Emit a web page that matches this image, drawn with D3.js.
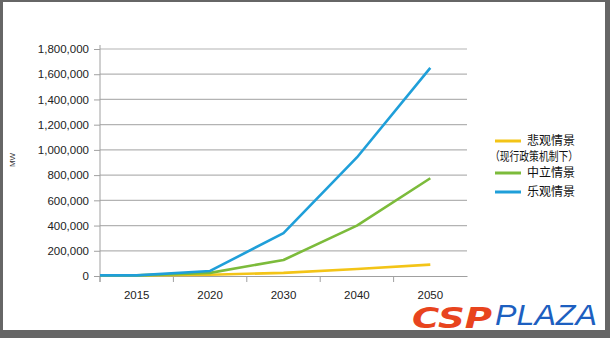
<!DOCTYPE html>
<html><head><meta charset="utf-8">
<script src="https://cdn.jsdelivr.net/npm/d3@7"></script>
<style>body{margin:0;background:#fff}svg{display:block}</style>
</head><body>
<svg id="c" width="610" height="338"></svg>
<script>
const categories = ["2015","2020","2030","2040","2050"];
const pessimistic = [5000, 10000, 25000, 55000, 90000];
const neutral = [5000, 25000, 127000, 400000, 775000];
const optimistic = [5000, 40000, 340000, 940000, 1650000];
const yTicks = [0,200000,400000,600000,800000,1000000,1200000,1400000,1600000,1800000];
const seriesNames = ["悲观情景","中立情景","乐观情景"];
const seriesColors = ["#f3c417","#7cbb3b","#1f9fd9"];

const svg = d3.select("#c");
svg.append("rect").attr("x",0).attr("y",0).attr("width",610).attr("height",338).attr("fill","#666");
svg.append("rect").attr("x",3).attr("y",2).attr("width",602).attr("height",328).attr("fill","#fff");

const x = d3.scaleBand().domain(categories).range([100,467]);
const y = d3.scaleLinear().domain([0,1800000]).range([276,49]);
const font = "Liberation Sans, Arial, sans-serif";

// grid
svg.append("g").selectAll("line").data(yTicks.slice(1)).join("line")
  .attr("x1",100).attr("x2",467).attr("y1",d=>y(d)).attr("y2",d=>y(d))
  .attr("stroke","#b3b3b3").attr("stroke-width",1.2);

// y axis
const ya = svg.append("g").attr("transform","translate(100,0)")
  .call(d3.axisLeft(y).tickValues(yTicks).tickSize(6).tickPadding(5).tickFormat(d3.format(",")));
ya.select(".domain").attr("stroke","#a0a0a0").attr("d","M0,45V282");
ya.selectAll(".tick line").attr("stroke","#a0a0a0");
ya.selectAll("text").attr("font-family",font).attr("font-size",11.5).attr("fill","#222");

// x axis
const xa = svg.append("g").attr("transform","translate(0,276)")
  .call(d3.axisBottom(x).tickSize(0).tickPadding(15));
xa.select(".domain").attr("stroke","#a0a0a0");
xa.selectAll("text").attr("font-family",font).attr("font-size",11.5).attr("fill","#222");
svg.append("g").selectAll("line").data(categories).join("line")
  .attr("x1",d=>x(d)).attr("x2",d=>x(d)).attr("y1",276).attr("y2",282)
  .attr("stroke","#a0a0a0");

// MW label
svg.append("text").attr("transform","translate(15,160) rotate(-90)")
  .attr("text-anchor","middle").attr("font-family",font).attr("font-size",8).attr("fill","#333").text("MW");

// lines
const seriesData = [pessimistic, neutral, optimistic];
const line = d3.line();
seriesData.forEach((vals,i)=>{
  const pts = [[x.range()[0], y(vals[0])]].concat(vals.map((v,j)=>[x(categories[j])+x.bandwidth()/2, y(v)]));
  svg.append("path").attr("d",line(pts)).attr("fill","none")
    .attr("stroke",seriesColors[i]).attr("stroke-width",2.6).attr("stroke-linejoin","round");
});

// legend
const cjk = "Noto Sans CJK SC, sans-serif";
const leg = [
  {c:seriesColors[0], y:141, t:seriesNames[0]},
  {c:seriesColors[1], y:173, t:seriesNames[1]},
  {c:seriesColors[2], y:192, t:seriesNames[2]}
];
leg.forEach(l=>{
  svg.append("line").attr("x1",495).attr("x2",521).attr("y1",l.y).attr("y2",l.y)
    .attr("stroke",l.c).attr("stroke-width",3);
  svg.append("text").attr("x",527).attr("y",l.y+4).attr("font-family",cjk).attr("font-size",12)
    .attr("fill","#111").text(l.t);
});
svg.append("text").attr("x",490).attr("y",161).attr("font-family",cjk).attr("font-size",12)
  .attr("fill","#111").text("（现行政策机制下）").attr("textLength",88).attr("lengthAdjust","spacingAndGlyphs");

// logo
svg.append("text").attr("x",412).attr("y",328).attr("font-family","DejaVu Sans, sans-serif")
  .attr("font-weight","bold").attr("font-style","italic").attr("font-size",29)
  .attr("fill","#e8441e").attr("textLength",80).attr("lengthAdjust","spacingAndGlyphs").text("CSP");
svg.append("text").attr("x",495).attr("y",325).attr("font-family","Liberation Sans, sans-serif")
  .attr("font-style","italic").attr("font-size",30)
  .attr("fill","#1d5fc0").attr("textLength",102).attr("lengthAdjust","spacingAndGlyphs").text("PLAZA");
</script>
</body></html>
